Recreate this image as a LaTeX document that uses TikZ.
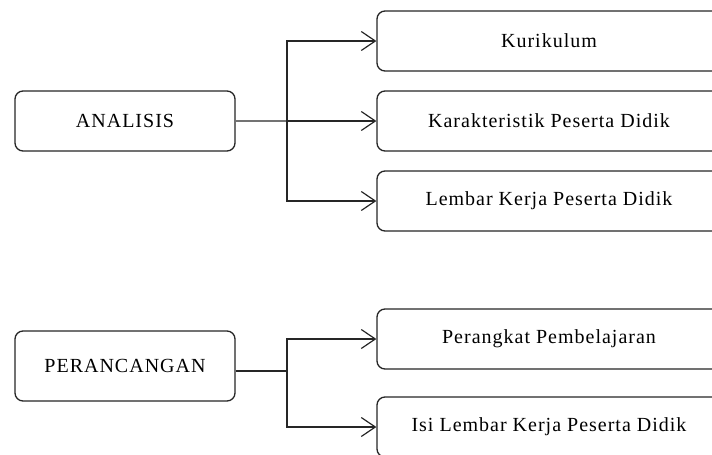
\documentclass[tikz,border=0pt]{standalone}
\usepackage{fontspec}
\setmainfont[LetterSpace=5]{Liberation Serif}
\usetikzlibrary{arrows.meta}
\begin{document}
\begin{tikzpicture}[x=1pt,y=-1pt,
  box/.style={draw=black!85, line width=1.3pt, rounded corners=8pt, fill=white,
    minimum height=60pt, inner sep=0pt, font=\fontsize{20}{24}\selectfont},
  leftbox/.style={box, minimum width=220pt},
  rightbox/.style={box, minimum width=344pt},
  conn/.style={draw=black!85, line width=1.2pt},
  arr/.style={conn, -{Straight Barb[length=14pt,width=19pt,line width=1.2pt]}}]
\useasboundingbox (0,0) rectangle (712,455);
\node[leftbox] (ana) at (125,121) {ANALISIS};
\node[rightbox] (kur) at (549,41) {Kurikulum};
\node[rightbox] (kar) at (549,121) {Karakteristik Peserta Didik};
\node[rightbox] (lem) at (549,201) {Lembar Kerja Peserta Didik};
\node[leftbox, minimum height=70pt] (per) at (125,366) {PERANCANGAN};
\node[rightbox] (pra) at (549,339) {Perangkat Pembelajaran};
\node[rightbox] (isi) at (549,427) {Isi Lembar Kerja Peserta Didik};
\coordinate (j1) at (287,121);
\coordinate (j2) at (287,371);
\draw[conn, draw=black!55] (ana.east) -- (j1);
\draw[arr] (j1) |- (kur.west);
\draw[arr] (j1) -- (kar.west);
\draw[arr] (j1) |- (lem.west);
\draw[conn] (per.east |- j2) -- (j2);
\draw[arr] (j2) |- (pra.west);
\draw[arr] (j2) |- (isi.west);
\end{tikzpicture}
\end{document}
